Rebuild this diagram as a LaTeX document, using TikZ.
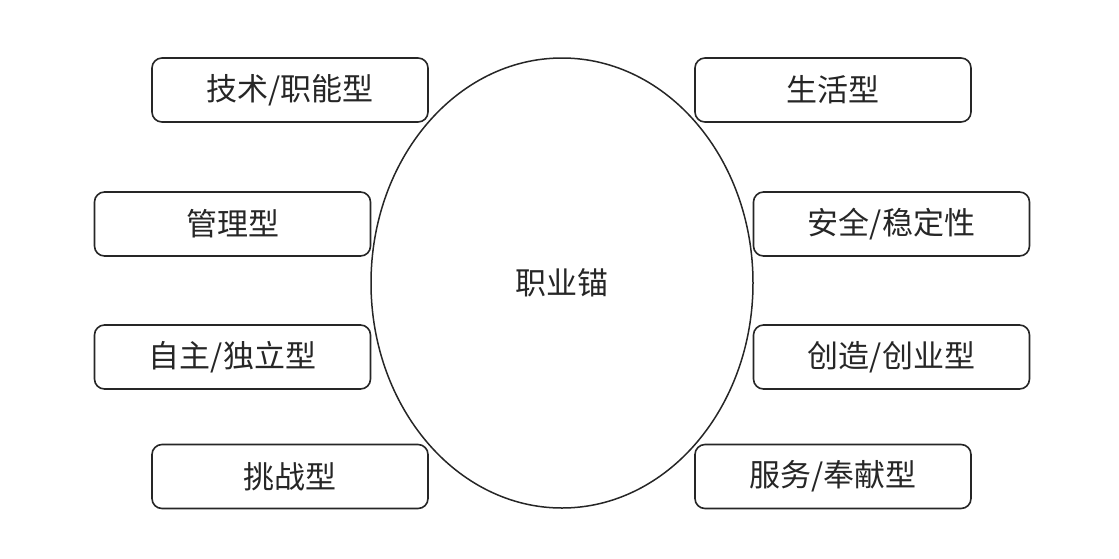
\documentclass[tikz,border=0pt]{standalone}
\usepackage{fontspec}
\setmainfont{Noto Sans CJK SC}
\usetikzlibrary{shapes.geometric}
\begin{document}
\begin{tikzpicture}[x=1pt,y=-1pt,
  anchorbox/.style={draw=black!85,line width=1.6pt,rounded corners=10pt,
    minimum width=276pt,minimum height=64pt,inner sep=0pt,
    font=\fontsize{31}{34}\selectfont,text=black!85},
  core/.style={draw=black!85,line width=1.5pt,ellipse,minimum width=382pt,
    minimum height=450pt,inner sep=0pt,font=\fontsize{31}{34}\selectfont,text=black!85}]
\useasboundingbox (0,0) rectangle (1119,558);
\node[core] (c) at (562,283) {职业锚};
\node[anchorbox] (b1) at (290,90) {技术/职能型};
\node[anchorbox] (b2) at (833,90) {生活型};
\node[anchorbox] (b3) at (232.5,224) {管理型};
\node[anchorbox] (b4) at (891.5,224) {安全/稳定性};
\node[anchorbox] (b5) at (232.5,357) {自主/独立型};
\node[anchorbox] (b6) at (891.5,357) {创造/创业型};
\node[anchorbox] (b7) at (290,476.5) {挑战型};
\node[anchorbox] (b8) at (833,476.5) {服务/奉献型};
\end{tikzpicture}
\end{document}
